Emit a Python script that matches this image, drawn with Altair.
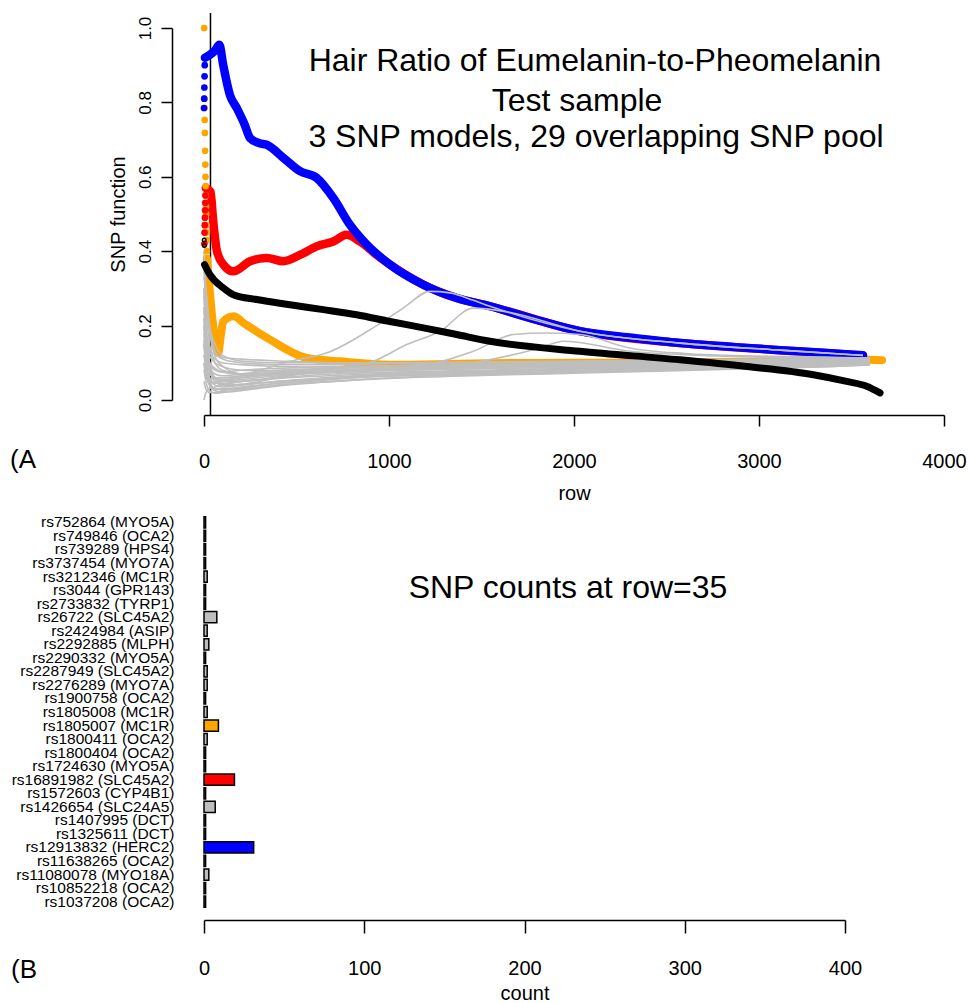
import altair as alt
import pandas as pd

FONT = "Liberation Sans"
ROW_MARK = 35
TITLE_LINES = ["Hair Ratio of Eumelanin-to-Pheomelanin", "Test sample",
               "3 SNP models, 29 overlapping SNP pool"]
X_TICKS = [0, 1000, 2000, 3000, 4000]
Y_TICKS = [0.0, 0.2, 0.4, 0.6, 0.8, 1.0]
COUNT_TICKS = [0, 100, 200, 300, 400]

# ---- top panel: colored model curves ----
BLUE_ROWS = [5, 32, 60, 83, 104, 140, 177, 220, 249, 300, 339, 429, 519, 609, 699, 789, 879,
             1005, 1186, 1366, 1546, 1800, 2032, 2300, 2573, 2850, 3114, 3350, 3562]
BLUE_VALS = [0.92, 0.928, 0.94, 0.955, 0.90, 0.82, 0.785, 0.74, 0.704, 0.69, 0.686, 0.651, 0.615,
             0.597, 0.543, 0.471, 0.418, 0.364, 0.310, 0.274, 0.252, 0.215, 0.185, 0.168, 0.153,
             0.143, 0.134, 0.127, 0.12]
BLUE_DOT_ROWS = [0, 1, 2, 3, 4]
BLUE_DOT_VALS = [0.785, 0.81, 0.84, 0.87, 0.90]

RED_ROWS = [10, 35, 50, 70, 105, 159, 249, 339, 429, 519, 609, 699, 771, 843, 933, 1005, 1186,
            1366, 1546, 2032, 2573, 3114, 3562]
RED_VALS = [0.57, 0.56, 0.48, 0.40, 0.364, 0.346, 0.373, 0.382, 0.373, 0.39, 0.413, 0.426, 0.444,
            0.426, 0.39, 0.364, 0.310, 0.274, 0.252, 0.185, 0.153, 0.134, 0.12]
RED_DOT_ROWS = [2, 3, 4, 5, 6, 7, 8]
RED_DOT_VALS = [0.42, 0.45, 0.47, 0.49, 0.51, 0.53, 0.55]

ORANGE_ROWS = [16, 30, 45, 59, 77, 90, 104, 159, 220, 285, 375, 465, 555, 735, 1005, 1546, 2000,
               2500, 3000, 3400, 3665]
ORANGE_VALS = [0.38, 0.30, 0.22, 0.167, 0.126, 0.17, 0.211, 0.225, 0.205, 0.184, 0.157, 0.131,
               0.113, 0.104, 0.095, 0.099, 0.10, 0.101, 0.104, 0.11, 0.107]
ORANGE_DOT_ROWS = [1, 2, 3, 4, 5, 6, 7, 8, 9, 10, 11, 12, 13, 14, 15, 16]
ORANGE_DOT_VALS = [1.0, 0.81, 0.785, 0.753, 0.718, 0.67, 0.633, 0.60, 0.575, 0.55, 0.52, 0.50,
                   0.47, 0.45, 0.43, 0.40]

BLACK_ROWS = [3, 32, 105, 159, 285, 465, 645, 825, 1005, 1186, 1366, 1546, 2032, 2573, 2933,
              3294, 3474, 3582, 3654]
BLACK_VALS = [0.364, 0.337, 0.301, 0.283, 0.27, 0.256, 0.243, 0.229, 0.211, 0.194, 0.176, 0.158,
              0.131, 0.108, 0.09, 0.068, 0.05, 0.037, 0.019]
BLACK_DOT_ROWS = [1, 2]
BLACK_DOT_VALS = [0.43, 0.415]

# ---- top panel: gray single-SNP curves ----
G1_ROWS = [0, 20, 60, 150, 300, 465, 681, 933, 1077, 1222, 1330, 1456, 1546, 2032, 2573, 3114, 3562]
G1_VALS = [0.2, 0.12, 0.06, 0.06, 0.08, 0.104, 0.13, 0.2, 0.247, 0.292, 0.288, 0.268, 0.252,
           0.185, 0.153, 0.134, 0.12]
G2_ROWS = [0, 20, 60, 150, 400, 700, 915, 1096, 1276, 1456, 1636, 2032, 2573, 3114, 3562]
G2_VALS = [0.15, 0.1, 0.05, 0.04, 0.06, 0.085, 0.104, 0.149, 0.185, 0.247, 0.237, 0.185, 0.153,
           0.134, 0.12]
G3_ROWS = [0, 30, 80, 200, 500, 900, 1186, 1456, 1672, 1850, 2032, 2300, 2600, 3000, 3400, 3600]
G3_VALS = [0.3, 0.18, 0.1, 0.07, 0.075, 0.09, 0.095, 0.131, 0.176, 0.18, 0.176, 0.14, 0.125,
           0.118, 0.115, 0.112]
G4_ROWS = [0, 30, 80, 200, 500, 900, 1366, 1816, 1942, 2302, 2700, 3100, 3500, 3600]
G4_VALS = [0.12, 0.08, 0.05, 0.05, 0.07, 0.085, 0.095, 0.14, 0.158, 0.131, 0.12, 0.115, 0.11, 0.108]

BAND_ROWS = [0, 10, 30, 60, 100, 200, 400, 700, 1000, 1500, 2000, 2500, 3000, 3400, 3600]
BAND_VALS = [
    [0.35, 0.25, 0.15, 0.10, 0.08, 0.07, 0.075, 0.085, 0.09, 0.095, 0.1, 0.1, 0.105, 0.108, 0.11],
    [0.30, 0.20, 0.10, 0.06, 0.05, 0.055, 0.065, 0.075, 0.08, 0.085, 0.09, 0.095, 0.1, 0.102, 0.105],
    [0.20, 0.12, 0.06, 0.04, 0.035, 0.04, 0.05, 0.06, 0.068, 0.075, 0.08, 0.085, 0.09, 0.095, 0.1],
    [0.15, 0.08, 0.04, 0.025, 0.022, 0.028, 0.04, 0.055, 0.065, 0.07, 0.075, 0.08, 0.088, 0.092, 0.097],
    [0.10, 0.05, 0.025, 0.018, 0.02, 0.025, 0.038, 0.05, 0.058, 0.066, 0.072, 0.078, 0.085, 0.09, 0.095],
    [0.0, 0.02, 0.03, 0.035, 0.04, 0.05, 0.06, 0.07, 0.075, 0.08, 0.085, 0.09, 0.095, 0.098, 0.1],
    [0.25, 0.18, 0.13, 0.11, 0.10, 0.095, 0.09, 0.088, 0.09, 0.092, 0.095, 0.098, 0.1, 0.103, 0.106],
    [0.2, 0.16, 0.12, 0.1, 0.09, 0.08, 0.078, 0.08, 0.085, 0.09, 0.094, 0.097, 0.1, 0.104, 0.108],
    [0.33, 0.3, 0.2, 0.13, 0.11, 0.1, 0.095, 0.095, 0.098, 0.1, 0.103, 0.105, 0.108, 0.11, 0.112],
    [0.18, 0.1, 0.05, 0.03, 0.03, 0.035, 0.045, 0.058, 0.066, 0.072, 0.077, 0.082, 0.088, 0.093, 0.098],
    [0.12, 0.09, 0.07, 0.06, 0.055, 0.06, 0.068, 0.075, 0.08, 0.085, 0.088, 0.092, 0.096, 0.1, 0.103],
    [0.25, 0.15, 0.09, 0.07, 0.065, 0.07, 0.08, 0.085, 0.09, 0.095, 0.098, 0.1, 0.103, 0.106, 0.109],
    [0.08, 0.06, 0.05, 0.045, 0.045, 0.05, 0.058, 0.066, 0.072, 0.078, 0.083, 0.088, 0.092, 0.096, 0.1],
    [0.28, 0.2, 0.14, 0.12, 0.115, 0.11, 0.105, 0.1, 0.1, 0.102, 0.105, 0.107, 0.11, 0.112, 0.113],
    [0.22, 0.14, 0.08, 0.05, 0.04, 0.042, 0.05, 0.062, 0.07, 0.076, 0.082, 0.086, 0.09, 0.094, 0.098],
    [0.05, 0.03, 0.02, 0.02, 0.025, 0.032, 0.045, 0.058, 0.064, 0.07, 0.074, 0.08, 0.086, 0.09, 0.094],
    [0.4, 0.3, 0.2, 0.15, 0.12, 0.105, 0.1, 0.1, 0.1, 0.1, 0.102, 0.104, 0.107, 0.11, 0.112],
    [0.15, 0.12, 0.1, 0.085, 0.075, 0.07, 0.07, 0.075, 0.08, 0.085, 0.088, 0.09, 0.095, 0.098, 0.101],
    [0.3, 0.18, 0.1, 0.08, 0.075, 0.08, 0.085, 0.09, 0.092, 0.095, 0.097, 0.1, 0.102, 0.105, 0.107],
    [0.1, 0.07, 0.04, 0.03, 0.028, 0.03, 0.04, 0.05, 0.06, 0.068, 0.075, 0.082, 0.088, 0.092, 0.096],
    [0.22, 0.17, 0.1, 0.06, 0.06, 0.065, 0.07, 0.078, 0.082, 0.087, 0.09, 0.094, 0.097, 0.1, 0.104],
    [0.16, 0.1, 0.06, 0.045, 0.05, 0.06, 0.072, 0.08, 0.086, 0.09, 0.093, 0.096, 0.1, 0.103, 0.106],
]

# ---- bottom panel: SNP counts at row 35 ----
SNP_LABELS = ["rs752864 (MYO5A)", "rs749846 (OCA2)", "rs739289 (HPS4)", "rs3737454 (MYO7A)",
              "rs3212346 (MC1R)", "rs3044 (GPR143)", "rs2733832 (TYRP1)", "rs26722 (SLC45A2)",
              "rs2424984 (ASIP)", "rs2292885 (MLPH)", "rs2290332 (MYO5A)", "rs2287949 (SLC45A2)",
              "rs2276289 (MYO7A)", "rs1900758 (OCA2)", "rs1805008 (MC1R)", "rs1805007 (MC1R)",
              "rs1800411 (OCA2)", "rs1800404 (OCA2)", "rs1724630 (MYO5A)", "rs16891982 (SLC45A2)",
              "rs1572603 (CYP4B1)", "rs1426654 (SLC24A5)", "rs1407995 (DCT)", "rs1325611 (DCT)",
              "rs12913832 (HERC2)", "rs11638265 (OCA2)", "rs11080078 (MYO18A)", "rs10852218 (OCA2)",
              "rs1037208 (OCA2)"]
SNP_COUNTS = [1, 1, 1, 1, 2, 1, 1, 8, 2, 3, 1, 2, 2, 1, 2, 9, 2, 1, 1, 19, 1, 7, 1, 1, 31, 1, 3, 1, 1]
SNP_FILLS = ["#BEBEBE"] * 29
SNP_FILLS[SNP_LABELS.index("rs12913832 (HERC2)")] = "#0000FF"
SNP_FILLS[SNP_LABELS.index("rs16891982 (SLC45A2)")] = "#FF0000"
SNP_FILLS[SNP_LABELS.index("rs1805007 (MC1R)")] = "#FFA500"

# ---------------- build frames ----------------
gray_rows = []
for sid, (rs, vs) in enumerate([(G1_ROWS, G1_VALS), (G2_ROWS, G2_VALS),
                                (G3_ROWS, G3_VALS), (G4_ROWS, G4_VALS)]):
    for r, v in zip(rs, vs):
        gray_rows.append({"row": r, "val": v, "sid": f"g{sid}"})
for k, vs in enumerate(BAND_VALS):
    for r, v in zip(BAND_ROWS, vs):
        gray_rows.append({"row": r, "val": v, "sid": f"b{k}"})
gray_df = pd.DataFrame(gray_rows)


def frame(rows, vals):
    return pd.DataFrame({"row": rows, "val": vals})


X_W, Y_H = 740, 372
xs = alt.Scale(domain=[0, 4000], nice=False, zero=False)
ys = alt.Scale(domain=[0, 1], nice=False, zero=False)
x_enc = alt.X("row:Q", scale=xs, axis=alt.Axis(
    values=X_TICKS, format="d", offset=15, tickSize=11, labelFontSize=20, labelPadding=25,
    title="row", titleFontSize=20, titlePadding=12, titleFontWeight="normal",
    domainColor="black", tickColor="black", labelColor="black", titleColor="black",
    domainWidth=1.5, tickWidth=1.5, grid=False, labelFlush=False))
y_enc = alt.Y("val:Q", scale=ys, axis=alt.Axis(
    values=Y_TICKS, format=".1f", offset=32, tickSize=11, labelFontSize=17, labelAngle=270,
    labelAlign="center", labelBaseline="middle", labelPadding=16,
    title="SNP function", titleFontSize=20, titlePadding=8, titleFontWeight="normal",
    domainColor="black", tickColor="black", labelColor="black", titleColor="black",
    domainWidth=1.5, tickWidth=1.5, grid=False, labelFlush=False))


def line(df, color, width):
    return alt.Chart(df).mark_line(color=color, strokeWidth=width, strokeCap="round",
                                   strokeJoin="round", interpolate="monotone").encode(
        x=x_enc, y=y_enc)


def dots(df, color, size):
    return alt.Chart(df).mark_circle(color=color, size=size, opacity=1).encode(x=x_enc, y=y_enc)


mark_df = pd.DataFrame({"row": [ROW_MARK]})
vline = alt.Chart(mark_df).mark_rule(color="black", strokeWidth=1.5).encode(
    x=x_enc, y=alt.datum(-0.04, scale=ys), y2=alt.datum(1.04))

gray = alt.Chart(gray_df).mark_line(color="#BEBEBE", strokeWidth=1.6,
                                    interpolate="monotone").encode(
    x=x_enc, y=y_enc, detail="sid:N")

black_dots = alt.Chart(frame(BLACK_DOT_ROWS, BLACK_DOT_VALS)).mark_point(
    color="black", size=14, strokeWidth=1.3, opacity=1).encode(x=x_enc, y=y_enc)

txt_df = pd.DataFrame({"t": TITLE_LINES})
TITLE_X = [391, 373, 392]
TITLE_Y = [33, 73, 109]
title_marks = [
    alt.Chart(txt_df.iloc[[i]]).mark_text(fontSize=32, font=FONT, align="center",
                                          baseline="middle", color="black").encode(
        text="t:N", x=alt.value(TITLE_X[i]), y=alt.value(TITLE_Y[i]))
    for i in range(3)
]
panel_a = alt.Chart(pd.DataFrame({"t": ["(A"]})).mark_text(
    fontSize=26, font=FONT, align="left", baseline="middle", color="black").encode(
    text="t:N", x=alt.value(-194), y=alt.value(432))

top = alt.layer(
    vline,
    line(frame(ORANGE_ROWS, ORANGE_VALS), "#FFA500", 8),
    line(frame(RED_ROWS, RED_VALS), "#FF0000", 8.5),
    line(frame(BLUE_ROWS, BLUE_VALS), "#0000FF", 8.5),
    gray,
    dots(frame(ORANGE_DOT_ROWS, ORANGE_DOT_VALS), "#FFA500", 45),
    dots(frame(RED_DOT_ROWS, RED_DOT_VALS), "#FF0000", 45),
    dots(frame(BLUE_DOT_ROWS, BLUE_DOT_VALS), "#0000FF", 45),
    line(frame(BLACK_ROWS, BLACK_VALS), "black", 7),
    black_dots,
    *title_marks,
    panel_a,
).properties(width=X_W, height=Y_H)

# ---------------- bottom panel ----------------
bar_df = pd.DataFrame({"snp": SNP_LABELS, "count": SNP_COUNTS, "fill": SNP_FILLS})
cs = alt.Scale(domain=[0, 400], nice=False, zero=False)
bars = alt.Chart(bar_df).mark_bar(stroke="black", strokeWidth=1.5).encode(
    x=alt.X("count:Q", scale=cs, axis=alt.Axis(
        values=COUNT_TICKS, offset=6, tickSize=13, labelFontSize=20, labelPadding=25,
        title="count", titleFontSize=20, titlePadding=5, titleFontWeight="normal",
        domainColor="black", tickColor="black", labelColor="black", titleColor="black",
        domainWidth=1.5, tickWidth=1.5, grid=False, labelFlush=False)),
    x2=alt.datum(0),
    y=alt.Y("snp:N", sort=SNP_LABELS,
            scale=alt.Scale(paddingInner=0.17, paddingOuter=0.5),
            axis=alt.Axis(domain=False, ticks=False, labelFontSize=15.5, labelPadding=30,
                          labelColor="black", labelLimit=400, title=None)),
    fill=alt.Fill("fill:N", scale=None),
)
counts_title = alt.Chart(pd.DataFrame({"t": ["SNP counts at row=35"]})).mark_text(
    fontSize=32, font=FONT, align="center", baseline="middle", color="black").encode(
    text="t:N", x=alt.value(364), y=alt.value(78))
panel_b = alt.Chart(pd.DataFrame({"t": ["(B"]})).mark_text(
    fontSize=26, font=FONT, align="left", baseline="middle", color="black").encode(
    text="t:N", x=alt.value(-193), y=alt.value(460))

bottom = alt.layer(bars, counts_title, panel_b).properties(width=641, height=404)

chart = alt.vconcat(top, bottom, spacing=7).properties(
    padding={"left": 10, "top": 12, "right": 0, "bottom": 0}
).configure(font=FONT).configure_view(stroke=None).configure_axis(
    labelFont=FONT, titleFont=FONT)

chart.save("out.html", embed_options={"renderer": "svg", "actions": False})
